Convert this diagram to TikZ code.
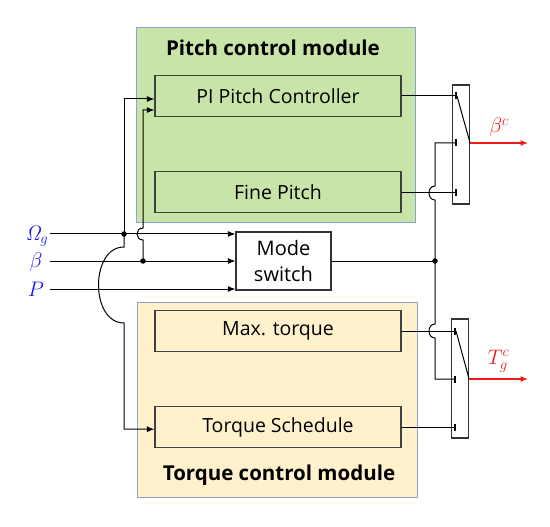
\RequirePackage{fix-cm}
\documentclass[tikz,border=0pt]{standalone}
\usepackage[no-math]{fontspec}
\setmainfont{Open Sans}
\usetikzlibrary{positioning,arrows.meta}
\definecolor{pitchgreen}{RGB}{201,228,168}
\definecolor{torqueyellow}{RGB}{255,241,204}
\definecolor{moduleframe}{RGB}{135,165,205}
\definecolor{inblue}{RGB}{25,25,235}
\definecolor{outred}{RGB}{240,25,25}

\begin{document}
\begin{tikzpicture}[x=1pt, y=-1pt,
    >={Latex[length=7.5pt,width=6pt]},
    modulenode/.style={rectangle, draw=moduleframe, line width=0.8pt, inner sep=0},
    blocknode/.style={rectangle, draw=black!75, line width=1.2pt, minimum width=246pt, minimum height=41pt, font=\fontsize{19.5}{22}\selectfont},
    switchnode/.style={rectangle, draw=black!80, line width=1.2pt, minimum width=17pt, minimum height=119pt, inner sep=0},
    dotnode/.style={circle, fill=black, inner sep=0, minimum size=5.5pt},
    contact/.style={-{Bar[width=7pt,line width=1.8pt]}},
    ]
    \tikzstyle{every path}=[line width=1pt]
    \useasboundingbox (0,0) rectangle (550,527);
    %Nodes
    \node[modulenode, fill=pitchgreen, minimum width=279pt, minimum height=195pt]   (pitchmod)  at (275.5,124.5) {};
    \node[modulenode, fill=torqueyellow, minimum width=280pt, minimum height=195pt] (torquemod) at (277,399.5) {};
    \node[font=\bfseries\fontsize{20.5}{24}\selectfont] (pitchtitle)  at (273,48)  {Pitch control module};
    \node[font=\bfseries\fontsize{20.5}{24}\selectfont] (torquetitle) at (279,475) {Torque control module};
    \node[blocknode, fill=pitchgreen]   (pictrl)    at (278,96) {PI Pitch Controller};
    \node[blocknode, fill=pitchgreen]   (finepitch) [below=54pt of pictrl] {Fine Pitch};
    \node[blocknode, fill=torqueyellow] (maxtorque) at (278,331) {Max. torque};
    \node[blocknode, fill=torqueyellow] (tqsched)   [below=54pt of maxtorque] {Torque Schedule};
    \node[rectangle, draw=black!80, line width=1.2pt, minimum width=95pt, minimum height=58pt, align=center,
          inner sep=0, font=\fontsize{20}{26}\selectfont] (modesw) at (283.5,261) {Mode\\switch};
    \node[switchnode] (swA) at (461,144.5) {};
    \node[switchnode] (swB) at (460,378.5) {};
    % inputs
    \node[text=inblue, font=\fontsize{21}{24}\selectfont] (omglabel)  at (37,236) {$\mathit{\Omega}_g$};
    \node[text=inblue, font=\fontsize{21}{24}\selectfont] (betalabel) at (36,262) {$\beta$};
    \node[text=inblue, font=\fontsize{21}{24}\selectfont] (plabel)    at (36,289) {$P$};
    \coordinate (omgstart)  at (50,234);
    \coordinate (betastart) at (50,261);
    \coordinate (pstart)    at (50,289);
    \node[dotnode] (omgdot)  at (124,234) {};
    \node[dotnode] (betadot) at (143,261) {};
    \node[dotnode] (busdot)  at (435,261) {};
    % invisible points
    \coordinate (piinA) at ([yshift=-3pt]pictrl.west);
    \coordinate (piinB) at ([yshift=-14pt]pictrl.west);
    \coordinate (tqin)  at ([yshift=-2pt]tqsched.west);
    \coordinate (omghopA)  at (124,247);
    \coordinate (omghopB)  at (124,323);
    \coordinate (betahopA) at (143,240);
    \coordinate (betahopB) at (143,228);
    \coordinate (bushopA)  at (435,200);
    \coordinate (bushopB)  at (435,186);
    \coordinate (bushopC)  at (435,324);
    \coordinate (bushopD)  at (435,338);
    \coordinate (swAtop) at (457,96);
    \coordinate (swAmid) at (457,143);
    \coordinate (swAbot) at (finepitch.east -| swAtop);
    \coordinate (swBtop) at (456,331);
    \coordinate (swBmid) at (456,379);
    \coordinate (swBbot) at (tqsched.east -| swBtop);
    \coordinate (betaout) at (528,143);
    \coordinate (tqout)   at (528,379);

    %Lines
    \draw[->] (omgstart) -- (omgstart -| modesw.west);
    \draw[->] (betastart) -- (betastart -| modesw.west);
    \draw[->] (pstart) -- (pstart -| modesw.west);
    \draw[->] (omgdot.center) |- (piinA);
    \draw[->] (omgdot.center) -- (omghopA) .. controls (90,247) and (90,323) .. (omghopB) |- (tqin);
    \draw[->] (betadot.center) -- (betahopA) .. controls (135,240) and (135,228) .. (betahopB) |- (piinB);
    \draw[contact] (pictrl.east) -- (swAtop);
    \draw[contact] (finepitch.east) -- (swAbot);
    \draw[contact] (maxtorque.east) -- (swBtop);
    \draw[contact] (tqsched.east) -- (swBbot);
    \draw (modesw.east) -- (busdot.center);
    \draw[contact] (busdot.center) -- (bushopA) .. controls (427,200) and (427,186) .. (bushopB) |- (swAmid);
    \draw[contact] (busdot.center) -- (bushopC) .. controls (427,324) and (427,338) .. (bushopD) |- (swBmid);
    \draw (swAtop) -- (swA.east |- swAmid);
    \draw (swBtop) -- (swB.east |- swBmid);
    \draw[->, outred, line width=1.2pt] (swA.east |- swAmid) -- (betaout) node[midway, above=2pt, font=\fontsize{21}{24}\selectfont] {$\beta^c$};
    \draw[->, outred, line width=1.2pt] (swB.east |- swBmid) -- (tqout) node[midway, above=3pt, font=\fontsize{21}{24}\selectfont] {$T_g^c$};

\end{tikzpicture}
\end{document}
